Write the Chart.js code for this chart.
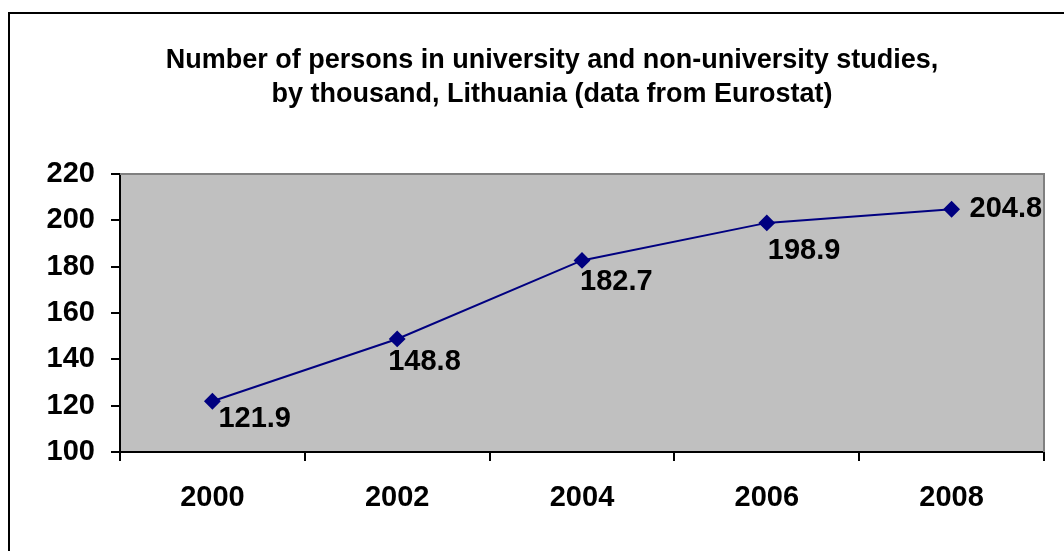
<!DOCTYPE html>
<html><head><meta charset="utf-8">
<script src="https://cdn.jsdelivr.net/npm/chart.js@4.4.0/dist/chart.umd.min.js"></script>
<style>html,body{margin:0;padding:0;background:#fff;overflow:hidden}canvas{display:block}</style>
</head><body>
<canvas id="c" width="1064" height="551"></canvas>
<script>
const titleLines = ['Number of persons in university and non-university studies,', 'by thousand, Lithuania (data from Eurostat)'];
const categories = ['2000', '2002', '2004', '2006', '2008'];
const values = [121.9, 148.8, 182.7, 198.9, 204.8];
const valueLabels = ['121.9', '148.8', '182.7', '198.9', '204.8'];
const yMin = 100, yMax = 220, yStep = 20;

const FONT = "'Liberation Sans', Arial, sans-serif";

const decor = {
  id: 'decor',
  beforeDraw(chart) {
    const {ctx, chartArea: a} = chart;
    ctx.save();
    ctx.fillStyle = '#C0C0C0';
    ctx.fillRect(a.left, a.top, a.right - a.left, a.bottom - a.top);
    // outer frame (left and top visible)
    ctx.strokeStyle = '#000';
    ctx.lineWidth = 2;
    ctx.beginPath();
    ctx.moveTo(9, 551); ctx.lineTo(9, 13); ctx.lineTo(1064, 13);
    ctx.stroke();
    // title
    ctx.fillStyle = '#000';
    ctx.font = 'bold 27px ' + FONT;
    ctx.textAlign = 'center';
    ctx.textBaseline = 'alphabetic';
    ctx.fillText(titleLines[0], 552, 68);
    ctx.fillText(titleLines[1], 552, 102);
    ctx.restore();
  },
  beforeDatasetsDraw(chart) {
    const {ctx, chartArea: a} = chart;
    ctx.save();
    ctx.strokeStyle = '#808080';
    ctx.lineWidth = 2;
    ctx.beginPath();
    ctx.moveTo(a.left, a.top); ctx.lineTo(a.right, a.top); ctx.lineTo(a.right, a.bottom);
    ctx.stroke();
    ctx.restore();
  },
  afterDraw(chart, args, opts) {
    const {ctx} = chart;
    const meta = chart.getDatasetMeta(0);
    ctx.save();
    ctx.fillStyle = '#000';
    ctx.font = 'bold 29px ' + FONT;
    ctx.textAlign = 'left';
    ctx.textBaseline = 'middle';
    meta.data.forEach((pt, i) => {
      const off = opts.offsets[i];
      ctx.fillText(valueLabels[i], pt.x + off[0], pt.y + off[1]);
    });
    ctx.restore();
  }
};

new Chart(document.getElementById('c'), {
  type: 'line',
  data: {
    labels: categories,
    datasets: [{
      data: values,
      borderColor: '#000080',
      backgroundColor: '#000080',
      borderWidth: 2,
      pointStyle: 'rectRot',
      pointRadius: 7,
      pointBackgroundColor: '#000080',
      pointBorderColor: '#000080',
      tension: 0,
      clip: false
    }]
  },
  options: {
    responsive: false,
    animation: false,
    layout: {padding: {left: 0, top: 174, right: 20, bottom: 0}},
    plugins: {
      legend: {display: false},
      title: {display: false},
      tooltip: {enabled: false},
      decor: {offsets: [[6, 18], [-9, 23], [-2, 22], [1, 28], [18, 0]]}
    },
    scales: {
      x: {
        offset: true,
        grid: {offset: true, drawOnChartArea: false, drawTicks: true, tickLength: 9, color: '#000', lineWidth: 2},
        border: {display: true, color: '#000', width: 2},
        ticks: {color: '#000', font: {family: FONT, size: 29, weight: 'bold'}, padding: 20, maxRotation: 0},
        afterFit(s) { s.height = 99; }
      },
      y: {
        min: yMin, max: yMax,
        grid: {drawOnChartArea: false, drawTicks: true, tickLength: 9, color: '#000', lineWidth: 2},
        border: {display: true, color: '#000', width: 2},
        ticks: {stepSize: yStep, color: '#000', font: {family: FONT, size: 29, weight: 'bold'}, padding: 16},
        afterFit(s) { s.width = 120; }
      }
    }
  },
  plugins: [decor]
});
</script>
</body></html>
